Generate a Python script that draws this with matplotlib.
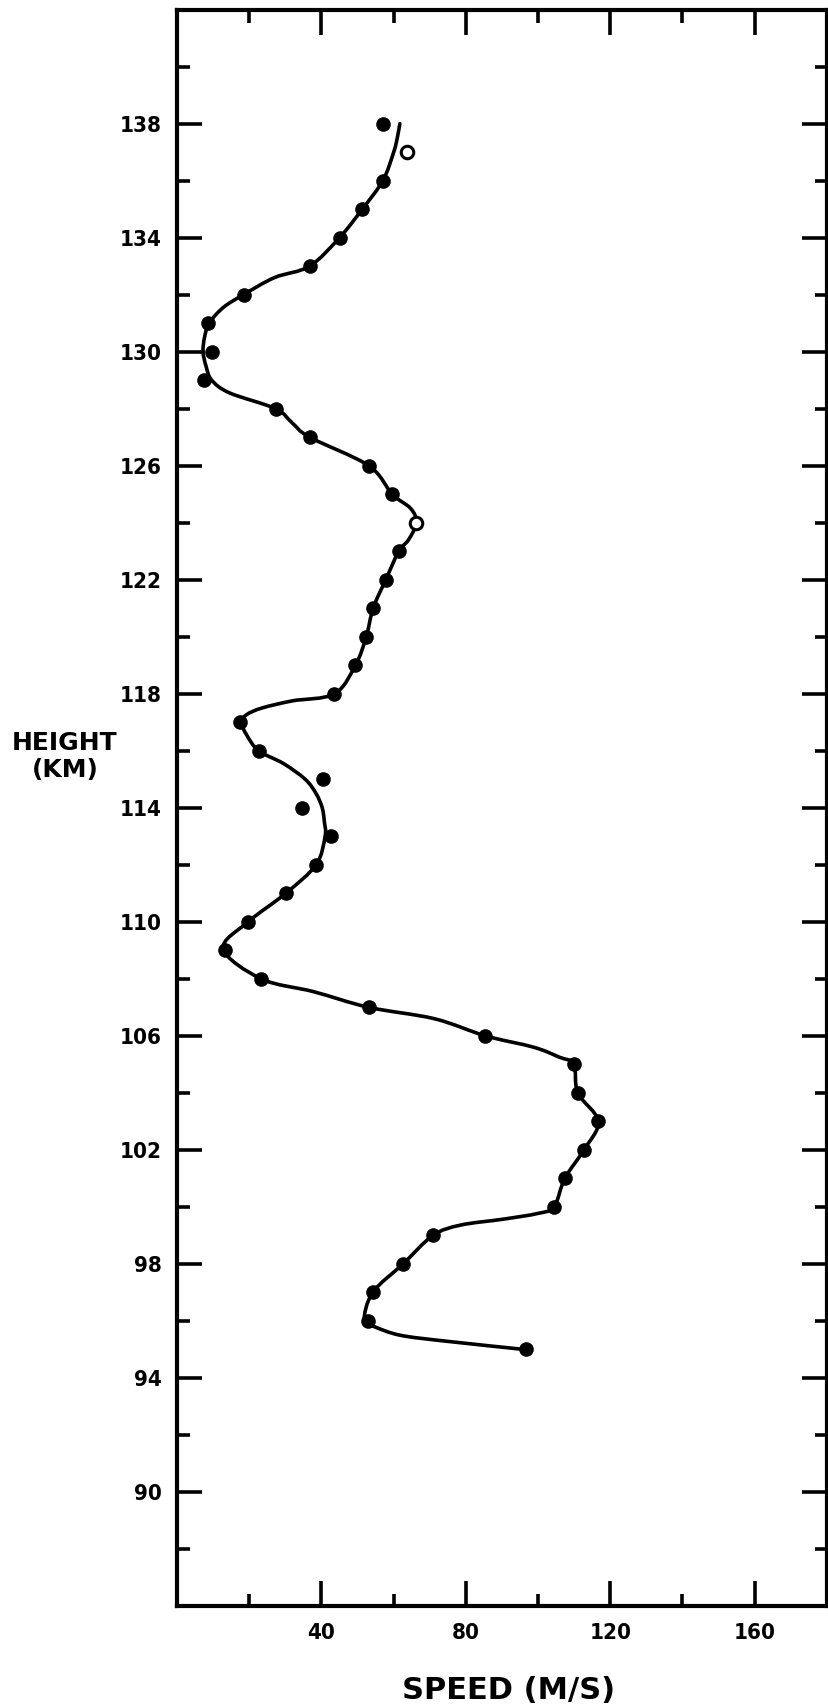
import matplotlib
matplotlib.use("Agg")
import matplotlib.pyplot as plt
from matplotlib.path import Path
from matplotlib.patches import PathPatch

# ---- data ----
# measured points (height km, speed m/s)
point_height = [138, 137, 136, 135, 134, 133, 132, 131, 130, 129, 128, 127, 126, 125,
                124, 123, 122, 121, 120, 119, 118, 117, 116, 115, 114, 113, 112, 111,
                110, 109, 108, 107, 106, 105, 104, 103, 102, 101, 100, 99, 98, 97, 96, 95]
point_speed = [57.0, 63.8, 57.0, 51.3, 45.0, 36.7, 18.4, 8.6, 9.8, 7.4, 27.3, 36.7, 53.1, 59.6,
               66.3, 61.4, 57.8, 54.3, 52.4, 49.4, 43.6, 17.5, 22.6, 40.5, 34.5, 42.6, 38.5, 30.1,
               19.7, 13.4, 23.3, 53.1, 85.4, 109.9, 111.0, 116.7, 112.7, 107.4, 104.4, 70.9, 62.6,
               54.2, 52.8, 96.7]
open_heights = [137, 124]

# hand-drawn smooth curve, vertices
curve_height = [138.0, 137.5, 137.0, 136.0, 135.0, 134.0, 133.0, 132.6, 132.0, 131.55, 131.0,
                130.5, 130.0, 129.5, 129.0, 128.55, 128.0, 127.5, 127.0, 126.0, 125.0, 124.5,
                124.0, 123.4, 123.0, 122.0, 121.0, 120.0, 119.0, 118.0, 117.75, 117.5,
                117.27, 117.0, 116.55, 116.0, 115.55, 115.0, 114.5, 114.0, 113.5, 113.0, 112.0,
                111.0, 110.0, 109.05, 108.0, 107.55, 107.0, 106.6, 106.0, 105.6, 105.25, 105.0,
                104.0, 103.0, 102.0, 101.0, 100.0, 99.77, 99.57, 99.36, 99.0, 98.0, 97.0, 96.0,
                95.8, 95.5, 95.3, 95.0]
curve_speed = [61.7, 61.0, 60.0, 57.0, 51.3, 45.0, 36.7, 27.0, 18.4, 12.8, 8.9,
               7.6, 7.2, 8.0, 9.6, 14.6, 27.3, 31.9, 36.7, 53.1, 59.6, 64.7,
               66.3, 64.1, 61.4, 57.8, 54.3, 52.4, 49.4, 43.6, 31.9, 23.5,
               19.3, 17.8, 19.3, 22.6, 29.5, 35.5, 38.5, 40.2, 40.8, 41.0, 38.5,
               30.1, 19.7, 12.8, 23.3, 37.8, 53.1, 71.3, 85.4, 98.8, 105.9, 109.9,
               111.0, 116.7, 112.7, 107.4, 104.4, 99.9, 90.4, 78.5, 70.9, 62.6, 54.2, 51.8,
               54.6, 61.7, 73.7, 96.0]

x_major = [40, 80, 120, 160]
x_minor = [20, 60, 100, 140]
y_major = [90, 94, 98, 102, 106, 110, 114, 118, 122, 126, 130, 134, 138]
y_minor = [88, 92, 96, 100, 104, 108, 112, 116, 120, 124, 128, 132, 136, 140]
x_labels = ["40", "80", "120", "160"]
y_labels = ["90", "94", "98", "102", "106", "110", "114", "118", "122", "126", "130", "134", "138"]

W, H = 828, 1707
fig = plt.figure(figsize=(W / 100 + 0.004, H / 100 + 0.004), dpi=100)
fig.patch.set_facecolor("white")
left, right, top, bottom = 177, 826.5, 10, 1606
ax = fig.add_axes([left / W, 1 - bottom / H, (right - left) / W, (bottom - top) / H])

# smooth line through the read curve vertices (drawn as a Bezier path)
pts = list(zip(curve_speed, curve_height))
n = len(pts)
verts = [pts[0]]
codes = [Path.MOVETO]
for i in range(n - 1):
    p0 = pts[i - 1] if i > 0 else pts[i]
    p1 = pts[i]
    p2 = pts[i + 1]
    p3 = pts[i + 2] if i + 2 < n else pts[i + 1]
    c1 = (p1[0] + (p2[0] - p0[0]) / 6, p1[1] + (p2[1] - p0[1]) / 6)
    c2 = (p2[0] - (p3[0] - p1[0]) / 6, p2[1] - (p3[1] - p1[1]) / 6)
    verts += [c1, c2, p2]
    codes += [Path.CURVE4] * 3
ax.add_patch(PathPatch(Path(verts, codes), facecolor="none", edgecolor="black",
                       lw=2.6, joinstyle="round", capstyle="round", zorder=2))

filled_s = [s for s, h in zip(point_speed, point_height) if h not in open_heights]
filled_h = [h for h in point_height if h not in open_heights]
open_s = [s for s, h in zip(point_speed, point_height) if h in open_heights]
open_h = [h for h in point_height if h in open_heights]
ax.plot(filled_s, filled_h, "o", color="black", ms=9.5, zorder=3)
ax.plot(open_s, open_h, "o", mfc="white", mec="black", mew=2.2, ms=9, zorder=3)

ax.set_xlim(0, 180)
ax.set_ylim(86, 142)

ax.set_xticks(x_major)
ax.set_xticklabels(x_labels)
ax.set_xticks(x_minor, minor=True)
ax.set_yticks(y_major)
ax.set_yticklabels(y_labels)
ax.set_yticks(y_minor, minor=True)

ax.tick_params(which="major", direction="in", length=18, width=2.6,
               top=True, right=True, labelsize=16, pad=12)
ax.tick_params(axis="y", which="major", pad=11)
ax.tick_params(which="minor", direction="in", length=9, width=2.6,
               top=True, right=True)

for lbl in ax.get_xticklabels() + ax.get_yticklabels():
    lbl.set_fontfamily(["Liberation Sans Narrow", "DejaVu Sans"])
    lbl.set_fontstretch("condensed")
    lbl.set_fontweight("bold")

for sp in ax.spines.values():
    sp.set_linewidth(3)

fig.text(65 / W, 1 - 756 / H, "HEIGHT\n(KM)", ha="center", va="center",
         fontsize=18, family="DejaVu Sans", linespacing=1.15, fontweight="bold")
fig.text(508 / W, 1 - 1690 / H, "SPEED (M/S)", ha="center", va="center",
         fontsize=22, family="DejaVu Sans", fontweight="bold")

fig.savefig("out.png", dpi=100, facecolor="white")
